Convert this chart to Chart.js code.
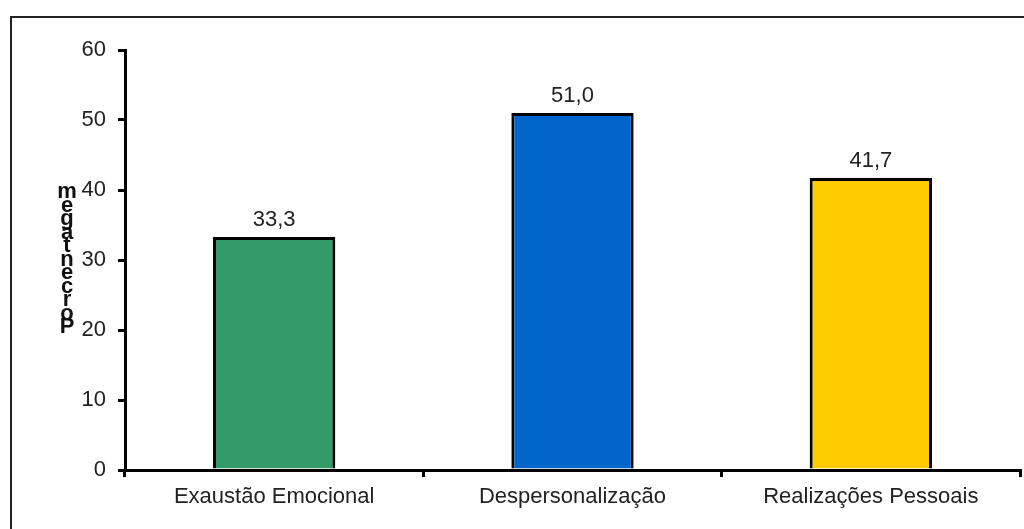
<!DOCTYPE html>
<html>
<head>
<meta charset="utf-8">
<script src="https://cdn.jsdelivr.net/npm/chart.js@4"></script>
<style>
    body { margin: 0; background: #fff; }
    #frame { position: absolute; left: 10px; top: 16px; width: 1100px; height: 600px;
             border-top: 2px solid #222; border-left: 2px solid #222; }
    canvas { position: absolute; left: 0; top: 0; }
</style>
</head>
<body>
<div id="frame"></div>
<canvas id="burnoutChart" width="1024" height="529"></canvas>
<script>
// Data
const categories = ['Exaustão Emocional', 'Despersonalização', 'Realizações Pessoais'];
const percentages = [33.3, 51.0, 41.7];
const barColors = ['#339966', '#0066CC', '#FFCC00'];
const yTitle = 'Porcentagem';

const fontFamily = '"Liberation Sans", Arial, sans-serif';

// value labels over the bars, e.g. "51,0"
const valueLabels = {
    id: 'valueLabels',
    afterDatasetsDraw(chart) {
        const ctx = chart.ctx;
        const meta = chart.getDatasetMeta(0);
        ctx.save();
        ctx.font = '22px ' + fontFamily;
        ctx.fillStyle = '#222';
        ctx.textAlign = 'center';
        ctx.textBaseline = 'bottom';
        meta.data.forEach((bar, i) => {
            ctx.fillText(percentages[i].toFixed(1).replace('.', ','), bar.x, bar.y - 6);
        });
        ctx.restore();
    }
};

// stacked letters of the y title, bottom to top
const stackedTitle = {
    id: 'stackedTitle',
    afterDraw(chart) {
        const ctx = chart.ctx;
        ctx.save();
        ctx.font = 'bold 22px ' + fontFamily;
        ctx.fillStyle = '#111';
        ctx.textAlign = 'center';
        ctx.textBaseline = 'middle';
        let y = 327;
        yTitle.split('').forEach(ch => {
            ctx.fillText(ch, 67, y);
            y -= 13.5;
        });
        ctx.restore();
    }
};

const ctx = document.getElementById('burnoutChart').getContext('2d');
const burnoutChart = new Chart(ctx, {
    type: 'bar',
    data: {
        labels: categories,
        datasets: [{
            data: percentages,
            backgroundColor: barColors,
            borderColor: '#000',
            borderWidth: 3,
            borderSkipped: 'start',
            categoryPercentage: 1,
            barPercentage: 0.41
        }]
    },
    options: {
        responsive: false,
        animation: false,
        layout: { padding: { top: 50, right: 4, left: 0, bottom: 0 } },
        plugins: {
            legend: { display: false },
            tooltip: { enabled: false }
        },
        scales: {
            x: {
                afterFit: scale => { scale.height = 59; },
                grid: {
                    offset: true,
                    drawOnChartArea: false,
                    drawTicks: true,
                    tickLength: 7,
                    color: '#000',
                    lineWidth: 3
                },
                border: { display: true, color: '#000', width: 3 },
                ticks: {
                    color: '#222',
                    padding: 7,
                    font: { family: fontFamily, size: 22 }
                }
            },
            y: {
                min: 0,
                max: 60,
                afterFit: scale => { scale.width = 125; },
                grid: {
                    drawOnChartArea: false,
                    drawTicks: true,
                    tickLength: 7,
                    color: '#000',
                    lineWidth: 3
                },
                border: { display: true, color: '#000', width: 3 },
                ticks: {
                    stepSize: 10,
                    color: '#222',
                    padding: 12,
                    font: { family: fontFamily, size: 22 }
                }
            }
        }
    },
    plugins: [valueLabels, stackedTitle]
});
</script>
</body>
</html>
